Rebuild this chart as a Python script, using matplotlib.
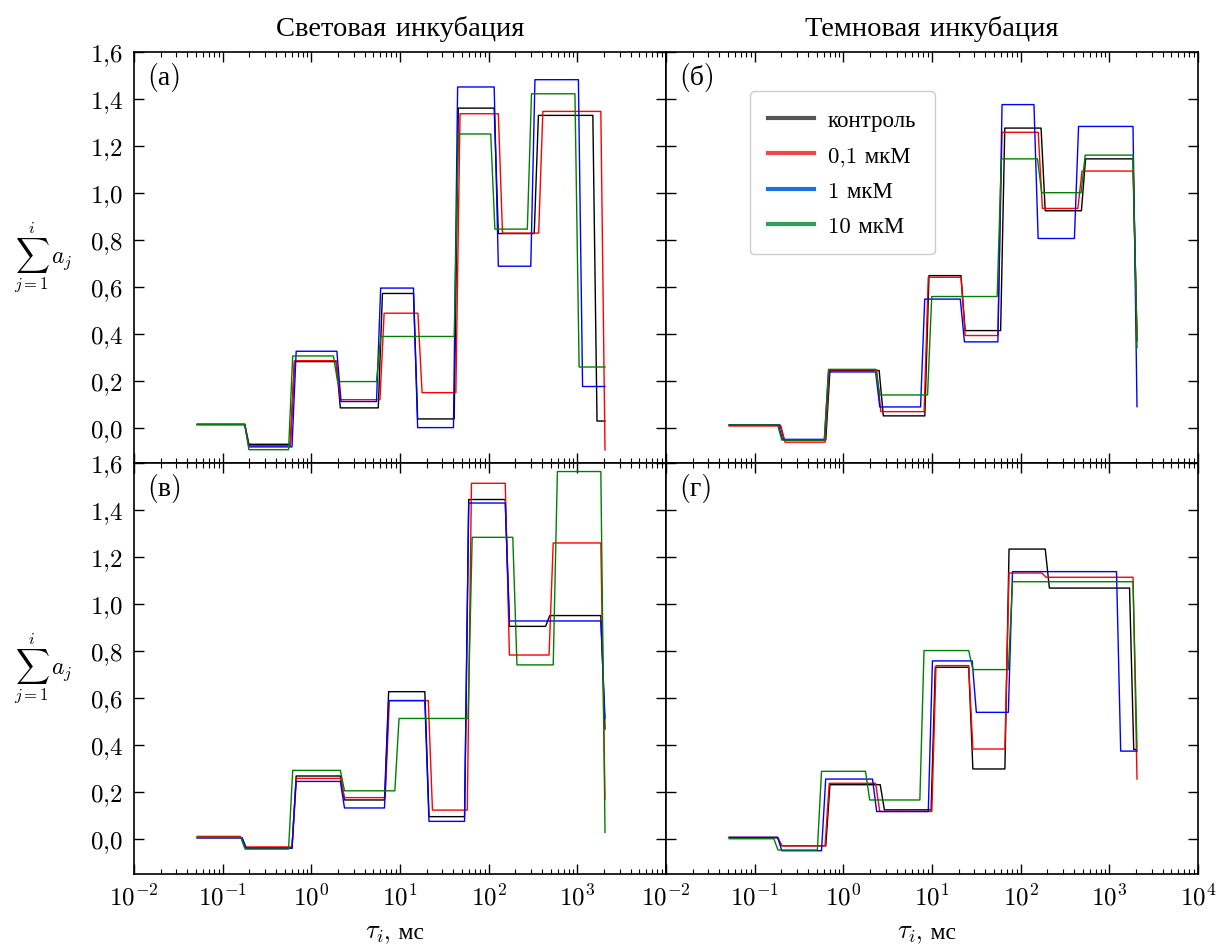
import numpy as np
import matplotlib
matplotlib.use("Agg")
import matplotlib.pyplot as plt
from matplotlib.lines import Line2D
from matplotlib.ticker import FixedLocator, LogLocator, FuncFormatter, NullFormatter

plt.rcParams["font.family"] = ["cmr10", "Liberation Serif"]
plt.rcParams["mathtext.fontset"] = "cm"
plt.rcParams["axes.formatter.use_mathtext"] = True

# -----------------------------
# data: each curve is a staircase; *_lg = log10(tau, ms) where a step begins,
# *_y = levels of the cumulative sum (one more than the number of steps)
# -----------------------------
LG_START, LG_END = -1.287, 3.312

# (а) light incubation, top
a_black_lg = [-0.751, -0.237, 0.280, 0.755, 1.152, 1.611, 2.062, 2.514, 3.175]
a_black_y = [0.014, -0.071, 0.281, 0.084, 0.571, 0.037, 1.360, 0.826, 1.329, 0.028]
a_red_lg = [-0.751, -0.237, 0.280, 0.774, 1.202, 1.630, 2.109, 2.564, 3.265]
a_red_y = [0.014, -0.077, 0.285, 0.119, 0.487, 0.149, 1.336, 0.828, 1.346, -0.095]
a_blue_lg = [-0.751, -0.218, 0.288, 0.735, 1.152, 1.603, 2.062, 2.475, 3.012]
a_blue_y = [0.012, -0.082, 0.325, 0.111, 0.594, 0.000, 1.450, 0.687, 1.481, 0.175]
a_green_lg = [-0.751, -0.257, 0.249, 0.735, 1.611, 2.023, 2.436, 2.973]
a_green_y = [0.014, -0.094, 0.305, 0.196, 0.388, 1.250, 0.845, 1.421, 0.258]

# (б) dark incubation, top
b_black_lg = [-0.713, -0.198, 0.404, 0.919, 1.327, 1.774, 2.230, 2.685, 3.267]
b_black_y = [0.011, -0.053, 0.243, 0.050, 0.647, 0.413, 1.275, 0.923, 1.144, 0.37]
b_red_lg = [-0.705, -0.206, 0.376, 0.911, 1.327, 1.743, 2.198, 2.645, 3.267]
b_red_y = [0.007, -0.062, 0.246, 0.068, 0.640, 0.392, 1.257, 0.933, 1.092, 0.40]
b_blue_lg = [-0.733, -0.214, 0.364, 0.871, 1.319, 1.743, 2.150, 2.606, 3.267]
b_blue_y = [0.011, -0.050, 0.237, 0.088, 0.547, 0.365, 1.375, 0.805, 1.282, 0.089]
b_green_lg = [-0.741, -0.214, 0.364, 0.950, 1.735, 2.190, 2.681, 3.267]
b_green_y = [0.011, -0.053, 0.248, 0.139, 0.558, 1.144, 1.000, 1.160, 0.34]

# (в) light incubation, bottom
c_black_lg = [-0.782, -0.218, 0.327, 0.825, 1.280, 1.728, 2.187, 2.642, 3.265]
c_black_y = [0.004, -0.040, 0.267, 0.165, 0.626, 0.094, 1.444, 0.904, 0.950, 0.467]
c_red_lg = [-0.800, -0.218, 0.327, 0.833, 1.319, 1.759, 2.187, 2.681, 3.265]
c_red_y = [0.010, -0.035, 0.257, 0.175, 0.588, 0.122, 1.513, 0.782, 1.259, 0.169]
c_blue_lg = [-0.782, -0.218, 0.327, 0.825, 1.280, 1.728, 2.187, 3.265]
c_blue_y = [0.004, -0.040, 0.244, 0.131, 0.588, 0.074, 1.429, 0.927, 0.512]
c_green_lg = [-0.794, -0.257, 0.327, 0.942, 1.767, 2.272, 2.728, 3.265]
c_green_y = [0.006, -0.044, 0.291, 0.204, 0.512, 1.283, 0.740, 1.563, 0.027]

# (г) dark incubation, bottom
d_black_lg = [-0.741, -0.198, 0.416, 0.990, 1.414, 1.822, 2.277, 3.228]
d_black_y = [0.004, -0.030, 0.230, 0.123, 0.730, 0.297, 1.233, 1.067, 0.38]
d_red_lg = [-0.741, -0.206, 0.364, 0.998, 1.414, 1.822, 2.240, 3.267]
d_red_y = [0.006, -0.030, 0.236, 0.116, 0.737, 0.382, 1.131, 1.113, 0.254]
d_blue_lg = [-0.741, -0.246, 0.329, 0.958, 1.453, 1.861, 3.081]
d_blue_y = [0.006, -0.051, 0.254, 0.116, 0.757, 0.538, 1.137, 0.373]
d_green_lg = [-0.784, -0.293, 0.250, 0.863, 1.414, 1.861, 3.267]
d_green_y = [0.000, -0.048, 0.287, 0.165, 0.801, 0.720, 1.094, 0.389]

series_labels = ["контроль", "0,1 мкМ", "1 мкМ", "10 мкМ"]
col_titles = ["Световая инкубация", "Темновая инкубация"]
panel_tags = ["(а)", "(б)", "(в)", "(г)"]

LINE_COLORS = ["k", "r", "b", "g"]
LEGEND_COLORS = ["#555555", "#f04848", "#1f6fe0", "#2ea05a"]
RAMP = 0.047  # width of one step of the tau grid, decades


def step_curve(lg_edges, levels, lg0=LG_START, lg1=LG_END, ramp=RAMP):
    xs, ys = [lg0], [levels[0]]
    for e, lo, hi in zip(lg_edges, levels[:-1], levels[1:]):
        xs += [e, min(e + ramp, lg1)]
        ys += [lo, hi]
    xs.append(lg1)
    ys.append(levels[-1])
    return 10 ** np.array(xs), np.array(ys)


panels = [
    [(a_black_lg, a_black_y), (a_red_lg, a_red_y), (a_blue_lg, a_blue_y), (a_green_lg, a_green_y)],
    [(b_black_lg, b_black_y), (b_red_lg, b_red_y), (b_blue_lg, b_blue_y), (b_green_lg, b_green_y)],
    [(c_black_lg, c_black_y), (c_red_lg, c_red_y), (c_blue_lg, c_blue_y), (c_green_lg, c_green_y)],
    [(d_black_lg, d_black_y), (d_red_lg, d_red_y), (d_blue_lg, d_blue_y), (d_green_lg, d_green_y)],
]

fig, axes = plt.subplots(2, 2, figsize=(12.16, 9.45), dpi=100)
fig.subplots_adjust(left=0.1102, right=0.9852, top=0.9442, bottom=0.0741, wspace=0, hspace=0)

ylab = r"$\sum_{j=1}^{i}\, a_j$"


def yfmt(v, p):
    return r"$%s$" % f"{v:.1f}".replace(".", "{,}")


def xfmt(v, p):
    return r"$10^{%d}$" % round(np.log10(v))


for k, ax in enumerate(axes.flat):
    row, col = divmod(k, 2)
    for (lg, yv), c in zip(panels[k], LINE_COLORS):
        x, y = step_curve(lg, yv)
        ax.plot(x, y, color=c, lw=1.0)

    ax.set_xscale("log")
    ax.set_xlim(1e-2, 1e4)
    ax.set_ylim(-0.15, 1.6)
    ax.yaxis.set_major_locator(FixedLocator(np.arange(0, 1.61, 0.2)))
    # left column stops at 10^3 so its last label does not sit on the right column's 10^-2
    last = 3 if col == 0 else 4
    ax.xaxis.set_major_locator(FixedLocator(10.0 ** np.arange(-2, last + 1)))
    ax.xaxis.set_minor_locator(LogLocator(base=10, subs=np.arange(2, 10), numticks=20))
    ax.xaxis.set_minor_formatter(NullFormatter())
    ax.tick_params(which="both", direction="in", top=True, right=True, labelsize=18)
    ax.tick_params(which="major", length=7, width=1.0)
    ax.tick_params(which="minor", length=3.5, width=0.8)
    ax.tick_params(axis="y", pad=8)
    for sp in ax.spines.values():
        sp.set_linewidth(1.2)

    if col == 0:
        ax.yaxis.set_major_formatter(FuncFormatter(yfmt))
        ax.set_ylabel(ylab, rotation=0, fontsize=17, ha="center", va="center")
        ax.yaxis.set_label_coords(-0.17, 0.5)
    else:
        ax.yaxis.set_major_formatter(NullFormatter())

    if row == 1:
        ax.xaxis.set_major_formatter(FuncFormatter(xfmt))
        ax.tick_params(axis="x", which="major", pad=7, labelsize=18)
        # x label: math part and Cyrillic part as two texts sharing a baseline
        ax.text(0.47, -0.155, r"$\tau_i$", transform=ax.transAxes, fontsize=19,
                ha="right", va="baseline")
        ax.text(0.47, -0.155, ", мс", transform=ax.transAxes, fontsize=17,
                ha="left", va="baseline")
    else:
        ax.xaxis.set_major_formatter(NullFormatter())
        ax.set_title(col_titles[col], fontsize=20.5, pad=12)

    ax.text(0.024, 0.975, panel_tags[k], transform=ax.transAxes, fontsize=20,
            ha="left", va="top")

handles = [Line2D([], [], color=c, lw=3) for c in LEGEND_COLORS]
axes[0, 1].legend(handles, series_labels, loc="upper left", bbox_to_anchor=(0.158, 0.904),
                  borderaxespad=0, fontsize=16.5, handlelength=2.0, handletextpad=0.6,
                  labelspacing=0.65, borderpad=0.8, frameon=True, edgecolor="#cccccc",
                  framealpha=1.0)

fig.savefig("out.png", dpi=100)
